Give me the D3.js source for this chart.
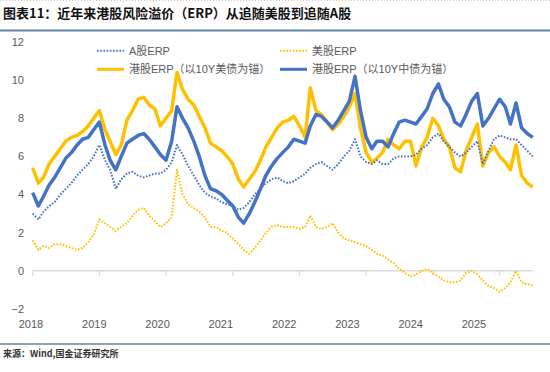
<!DOCTYPE html>
<html>
<head>
<meta charset="utf-8">
<script src="https://cdn.jsdelivr.net/npm/d3@7"></script>
<style>
  body { margin: 0; background: #fff; }
  svg { display: block; }
</style>
</head>
<body>
<svg id="chart" width="550" height="372"></svg>
<script>
// monthly observations, Jan 2018 .. Jul 2025
var months = d3.timeMonth.range(new Date(2018, 0, 1), new Date(2025, 7, 1));

var aShare = [3.0,2.7,3.1,3.4,3.6,4.0,4.3,4.6,5.0,5.3,5.6,6.0,
  6.6,5.8,5.3,4.3,4.8,5.1,5.2,5.0,4.9,5.0,5.1,5.1,
  5.3,5.7,6.6,6.1,5.5,5.0,4.5,4.1,3.9,3.8,3.6,3.5,
  3.4,3.2,3.3,3.6,4.0,4.3,4.6,4.8,4.9,4.7,4.6,4.7,
  4.9,5.1,5.4,5.6,5.7,5.5,5.3,5.6,6.0,6.3,6.9,6.0,
  5.7,5.6,5.8,5.6,5.6,5.9,6.0,6.0,6.0,6.1,6.4,6.6,
  7.0,7.2,6.8,6.5,6.2,6.0,6.2,6.5,6.8,5.6,6.3,6.9,
  7.1,7.0,6.9,6.9,6.6,6.3,6.0];

var usShare = [1.6,1.1,1.3,1.2,1.4,1.4,1.3,1.2,1.1,1.2,1.5,1.9,
  2.7,2.5,2.3,2.1,2.3,2.5,2.9,3.2,3.3,2.9,2.6,2.3,
  2.5,2.8,5.3,4.0,3.5,3.3,3.1,2.8,2.3,2.3,2.1,2.0,
  1.7,1.4,1.1,0.9,1.2,1.6,2.0,2.3,2.4,2.3,2.3,2.3,
  2.2,2.3,2.9,2.3,2.2,2.3,2.5,2.0,1.7,1.6,1.5,1.4,
  1.3,1.1,0.9,0.8,0.6,0.4,0.1,-0.1,-0.3,-0.2,0.0,0.1,
  -0.1,-0.3,-0.5,-0.6,-0.6,-0.5,-0.1,0.0,-0.2,-0.5,-0.8,-0.9,
  -1.1,-0.9,-0.6,0.0,-0.6,-0.7,-0.75];

var hkVsUs = [5.4,4.6,4.9,5.6,6.0,6.4,6.8,7.0,7.1,7.3,7.6,8.0,
  8.4,7.4,6.8,6.1,6.6,7.9,8.4,9.0,9.1,8.7,8.5,7.6,
  8.0,8.4,10.4,9.5,9.0,8.7,8.1,7.5,6.7,6.5,6.3,6.0,
  5.6,4.8,4.4,4.8,5.2,5.8,6.5,7.0,7.5,7.8,7.9,8.1,
  7.6,7.0,9.6,8.4,8.2,7.8,7.4,7.7,8.1,8.6,9.3,7.5,
  6.2,5.7,5.9,6.2,6.9,6.6,6.4,6.8,6.8,5.5,6.5,7.0,
  8.0,7.6,6.9,6.5,5.4,5.2,6.3,7.0,7.7,5.5,6.2,6.5,
  6.0,5.7,5.3,6.6,5.0,4.6,4.4];

var hkVsCn = [4.1,3.4,3.9,4.5,4.9,5.4,5.9,6.2,6.6,6.9,7.0,7.4,
  7.8,6.6,5.8,5.3,6.0,6.7,6.9,7.1,7.2,6.9,6.5,6.1,
  5.8,6.8,8.6,8.0,7.5,6.8,6.0,5.0,4.3,4.2,4.0,3.7,
  3.4,2.8,2.5,3.0,3.6,4.3,5.0,5.5,5.9,6.2,6.5,6.9,
  6.8,6.7,7.6,8.2,8.1,7.8,7.5,7.9,8.4,8.9,10.2,8.4,
  7.0,6.4,6.8,6.8,6.5,7.2,7.8,7.9,7.8,7.7,8.1,8.5,
  9.3,9.8,9.0,8.6,7.8,7.6,8.2,8.9,9.3,7.6,8.0,8.5,
  9.0,8.6,7.7,8.8,7.5,7.2,7.0];

var yTicks = [-2, 0, 2, 4, 6, 8, 10, 12];
var yearLabels = [2018, 2019, 2020, 2021, 2022, 2023, 2024, 2025];

var blue = "#4472c4", gold = "#ffc000";
var fontLatin = "'Liberation Sans','Noto Sans CJK SC',sans-serif";
var fontCjk = "'Noto Sans CJK SC','Liberation Sans',sans-serif";

var svg = d3.select("#chart");

var x = d3.scaleTime()
    .domain([months[0], months[months.length - 1]])
    .range([32.7, 532.7]);
var y = d3.scaleLinear().domain([-2, 12]).range([309, 42]);
// year captions sit on their own spacing, like the source's category axis
var xLabel = d3.scaleLinear().domain([2018, 2025]).range([31, 474]);

// top frame
svg.append("line")
    .attr("x1", 0).attr("x2", 550).attr("y1", 0.5).attr("y2", 0.5)
    .attr("stroke", "#c8c8c8").attr("stroke-dasharray", "1,2");

svg.append("text")
    .attr("x", 3).attr("y", 18)
    .attr("font-family", fontCjk).attr("font-size", 13).attr("font-weight", "bold")
    .attr("fill", "#111")
    .text("图表11：近年来港股风险溢价（ERP）从追随美股到追随A股");

svg.append("line")
    .attr("x1", 0).attr("x2", 550).attr("y1", 30.5).attr("y2", 30.5)
    .attr("stroke", "#5f86a8").attr("stroke-width", 2);

svg.append("line")
    .attr("x1", 0).attr("x2", 550).attr("y1", 344).attr("y2", 344)
    .attr("stroke", "#5f86a8").attr("stroke-width", 1.5);

svg.append("text")
    .attr("x", 3).attr("y", 357)
    .attr("font-family", fontCjk).attr("font-size", 9).attr("font-weight", "bold")
    .attr("fill", "#333")
    .text("来源：Wind,国金证券研究所");

// y labels
svg.append("g").selectAll("text")
    .data(yTicks)
    .join("text")
    .attr("x", 24)
    .attr("y", d => y(d))
    .attr("dy", "0.35em")
    .attr("text-anchor", "end")
    .attr("font-family", fontLatin).attr("font-size", 11)
    .attr("fill", "#595959")
    .text(d => d < 0 ? "\u2212" + Math.abs(d) : d);

// zero axis with yearly ticks
svg.append("line")
    .attr("x1", x.range()[0]).attr("x2", x.range()[1])
    .attr("y1", y(0)).attr("y2", y(0))
    .attr("stroke", "#d9d9d9").attr("stroke-width", 1.5);

svg.append("g").selectAll("line")
    .data(d3.timeYear.range(months[0], months[months.length - 1]))
    .join("line")
    .attr("x1", d => x(d)).attr("x2", d => x(d))
    .attr("y1", y(0)).attr("y2", y(0) + 5)
    .attr("stroke", "#d9d9d9").attr("stroke-width", 1.2);

svg.append("g").selectAll("text")
    .data(yearLabels)
    .join("text")
    .attr("x", d => xLabel(d))
    .attr("y", 328)
    .attr("text-anchor", "middle")
    .attr("font-family", fontLatin).attr("font-size", 11)
    .attr("fill", "#595959")
    .text(d => d);

var line = d3.line()
    .x((d, i) => x(months[i]))
    .y(d => y(d));

var series = [
    {values: hkVsUs, color: gold, width: 3.5, dash: null},
    {values: hkVsCn, color: blue, width: 3.5, dash: null},
    {values: aShare, color: blue, width: 2, dash: "1.6,1.6"},
    {values: usShare, color: gold, width: 2, dash: "1.6,1.6"}
];

svg.append("g").selectAll("path")
    .data(series)
    .join("path")
    .attr("fill", "none")
    .attr("stroke", d => d.color)
    .attr("stroke-width", d => d.width)
    .attr("stroke-dasharray", d => d.dash)
    .attr("stroke-linejoin", "round")
    .attr("d", d => line(d.values));

// legend
var legend = [
    {label: "A股ERP", color: blue, width: 2, dash: "1.6,1.6", lx: 97, ly: 50.7},
    {label: "美股ERP", color: gold, width: 2, dash: "1.6,1.6", lx: 280, ly: 50.7},
    {label: "港股ERP（以10Y美债为锚）", color: gold, width: 3, dash: null, lx: 97, ly: 69.3},
    {label: "港股ERP（以10Y中债为锚）", color: blue, width: 3, dash: null, lx: 280, ly: 69.3}
];

var lg = svg.append("g").selectAll("g")
    .data(legend)
    .join("g")
    .attr("transform", d => `translate(${d.lx},${d.ly})`);

lg.append("line")
    .attr("x1", 0).attr("x2", 27).attr("y1", 0).attr("y2", 0)
    .attr("stroke", d => d.color)
    .attr("stroke-width", d => d.width)
    .attr("stroke-dasharray", d => d.dash);

lg.append("text")
    .attr("x", 32).attr("dy", "0.35em")
    .attr("font-family", fontLatin).attr("font-size", 11)
    .attr("fill", "#595959")
    .text(d => d.label);
</script>
</body>
</html>
